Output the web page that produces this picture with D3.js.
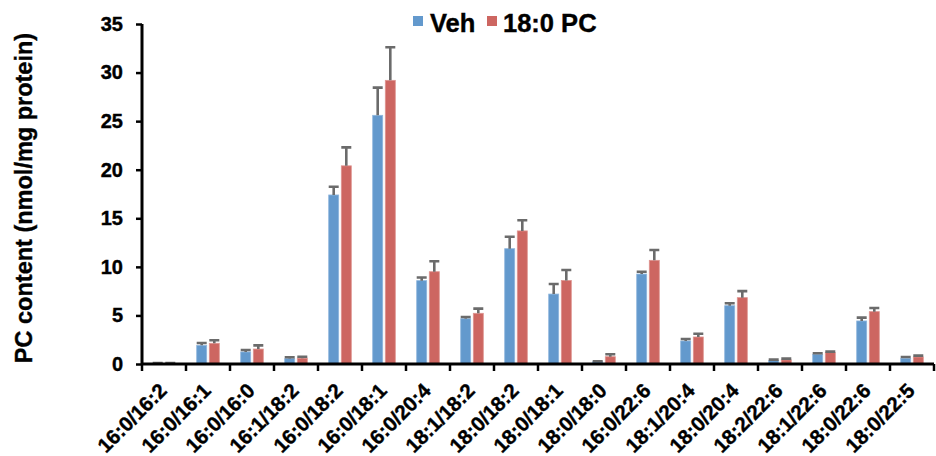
<!DOCTYPE html>
<html><head><meta charset="utf-8">
<script src="https://cdn.jsdelivr.net/npm/d3@7"></script>
<style>body{margin:0;background:#fff}svg{display:block}text{font-family:"Liberation Sans",Arial,sans-serif;font-weight:bold;stroke:#000;stroke-width:0.4px}</style>
</head><body>
<svg id="c" width="936" height="456"></svg>
<script>
const categories = ["16:0/16:2","16:0/16:1","16:0/16:0","16:1/18:2","16:0/18:2","16:0/18:1","16:0/20:4","18:1/18:2","18:0/18:2","18:0/18:1","18:0/18:0","16:0/22:6","18:1/20:4","18:0/20:4","18:2/22:6","18:1/22:6","18:0/22:6","18:0/22:5"];
const seriesNames = ["Veh","18:0 PC"];
const vehValues = [0.05,1.92,1.24,0.55,17.4,25.6,8.58,4.66,11.87,7.2,0.24,9.26,2.37,6.0,0.35,1.0,4.43,0.58];
const vehErrors = [0.05,0.24,0.2,0.14,0.85,2.85,0.32,0.18,1.23,1.04,0.05,0.24,0.2,0.25,0.1,0.1,0.34,0.14];
const pcValues  = [0.05,2.13,1.54,0.6,20.4,29.2,9.5,5.22,13.7,8.6,0.75,10.67,2.78,6.83,0.42,1.17,5.39,0.72];
const pcErrors  = [0.05,0.31,0.38,0.15,1.9,3.4,1.07,0.48,1.1,1.08,0.25,1.07,0.34,0.67,0.13,0.1,0.37,0.14];
const yTicks = [0,5,10,15,20,25,30,35];
const colors = ["#6399CD","#CD6661"];
const strokes = ["#8FB6DD","#DE9490"];

const svg = d3.select("#c");
const x0 = 142, x1 = 934, yTop = 24, yBot = 364;
const x = d3.scaleBand().domain(categories).range([x0, x1]).padding(0);
const y = d3.scaleLinear().domain([0,35]).range([yBot, yTop]);
const barW = 10, gap = 2.6;

const data = categories.map((c,i)=>({c, vals:[{s:0,v:vehValues[i],e:vehErrors[i]},{s:1,v:pcValues[i],e:pcErrors[i]}]}));

const g = svg.append("g");
const groups = g.selectAll("g.cat").data(data).join("g")
  .attr("transform", d=>`translate(${x(d.c)+x.bandwidth()/2},0)`);
const offs = s => s===0 ? -gap/2-barW : gap/2;
groups.selectAll("rect").data(d=>d.vals).join("rect")
  .attr("x", d=>offs(d.s)).attr("width", barW)
  .attr("y", d=>y(d.v)).attr("height", d=>yBot - y(d.v))
  .attr("fill", d=>colors[d.s]).attr("stroke", d=>strokes[d.s]).attr("stroke-width",0.8);
// error bars
groups.selectAll("path.err").data(d=>d.vals).join("path").attr("class","err")
  .attr("d", d=>{const cx=offs(d.s)+barW/2, t=y(d.v+d.e), b=y(d.v); return `M${cx},${b}V${t}M${cx-barW/2},${t}H${cx+barW/2}`;})
  .attr("stroke","#6B6B6B").attr("stroke-width",2.6).attr("fill","none");

// y axis
const yAxis = svg.append("g").attr("transform",`translate(${x0},0)`)
  .call(d3.axisLeft(y).tickValues(yTicks).tickSize(6).tickPadding(13).tickFormat(d3.format("d")));
yAxis.select(".domain").attr("stroke","#000").attr("stroke-width",3).attr("d",`M0,${yTop}V${yBot}`);
yAxis.selectAll(".tick line").attr("stroke","#000").attr("stroke-width",2.5);
yAxis.selectAll(".tick text").attr("font-size",20).attr("fill","#000").attr("font-family","Liberation Sans, Arial, sans-serif").attr("font-weight","bold");

// x axis
const xAxis = svg.append("g").attr("transform",`translate(0,${yBot})`);
xAxis.append("line").attr("x1",x0-1).attr("x2",x1).attr("y1",0).attr("y2",0).attr("stroke","#000").attr("stroke-width",3);
xAxis.selectAll("line.t").data(categories.concat(["__end"])).join("line").attr("class","t")
  .attr("x1",(d,i)=>x0+i*x.bandwidth()).attr("x2",(d,i)=>x0+i*x.bandwidth())
  .attr("y1",0).attr("y2",7).attr("stroke","#000").attr("stroke-width",2.5);
xAxis.selectAll("text").data(categories).join("text")
  .attr("transform", d=>`translate(${x(d)+x.bandwidth()/2+4},${28}) rotate(-45)`)
  .attr("text-anchor","end").attr("font-size",20.5).attr("fill","#000").text(d=>d);

// y title
svg.append("text").attr("transform",`translate(32,198) rotate(-90)`).attr("text-anchor","middle")
  .attr("font-size",23.5).attr("fill","#000").text("PC content (nmol/mg protein)");

// legend
const leg = svg.append("g");
const legItems = [{n:seriesNames[0],x:413,tx:430},{n:seriesNames[1],x:487,tx:503}];
legItems.forEach((d,i)=>{
  leg.append("rect").attr("x",d.x).attr("y",16).attr("width",10).attr("height",10).attr("fill",colors[i]);
  leg.append("text").attr("x",d.tx).attr("y",32).attr("font-size",25.5).attr("fill","#000").text(d.n);
});
</script>
</body></html>
